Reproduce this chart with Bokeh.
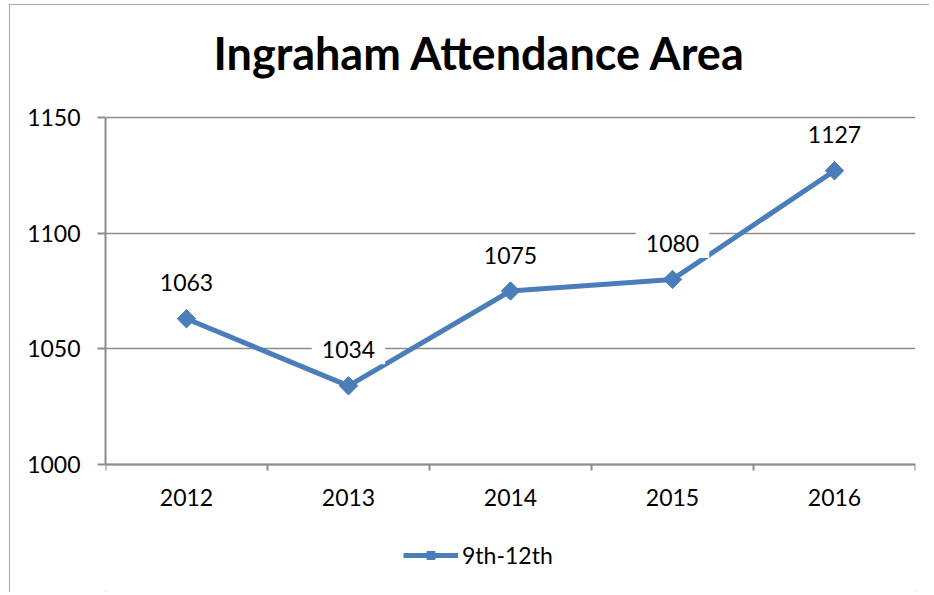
import math
from bokeh.plotting import figure
from bokeh.models import (ColumnDataSource, FixedTicker, Range1d, Title, Legend,
                          LegendItem)
from bokeh.embed import file_html
from bokeh.resources import INLINE
from bokeh.core.properties import value

# ---- data ----
years = ["2012", "2013", "2014", "2015", "2016"]
enrollment = [1063, 1034, 1075, 1080, 1127]
series_name = "9th-12th"
title_text = "Ingraham Attendance Area"
y_ticks = [1000, 1050, 1100, 1150]

xs = [i + 0.5 for i in range(len(years))]
src = ColumnDataSource(dict(x=xs, y=enrollment, label=[str(v) for v in enrollment]))

FONT = "Lato"
GRAY = "#8c8c8c"
BLUE = "#4A7EBB"

# layout geometry (pixels): value axis spans 347 px; frame extended above and
# below so the title and legend sit in the right places
AXIS_PX = 347.0
EXTRA_TOP_PX = 33.0
EXTRA_BOTTOM_PX = 128.0
ppu = AXIS_PX / (y_ticks[-1] - y_ticks[0])
y_lo = y_ticks[0] - EXTRA_BOTTOM_PX / ppu
y_hi = y_ticks[-1] + EXTRA_TOP_PX / ppu

p = figure(width=920, height=588, output_backend="svg", toolbar_location=None,
           x_range=Range1d(0, len(years)), y_range=Range1d(y_lo, y_hi),
           min_border_left=96, min_border_right=14, min_border_top=80,
           min_border_bottom=0)
p.margin = (4, 0, 0, 9)
p.styles = {"outline": "2px solid #8c8c8c", "outline-offset": "-2px"}
p.outline_line_color = None
p.background_fill_color = "white"
p.border_fill_color = "white"

# title
t = Title(text=title_text, align="left", text_font=FONT, text_font_size="45px",
          text_font_style="bold", text_color="black", standoff=10, offset=108)
p.add_layout(t, "above")

# axes
p.yaxis.ticker = FixedTicker(ticks=y_ticks)
p.yaxis.bounds = (y_ticks[0], y_ticks[-1])
p.yaxis.major_tick_out = 8
p.yaxis.major_tick_in = 0
p.yaxis.minor_tick_out = 0
p.yaxis.minor_tick_in = 0
p.yaxis.major_label_standoff = 17
p.yaxis.axis_line_color = GRAY
p.yaxis.axis_line_width = 2
p.yaxis.major_tick_line_color = GRAY
p.yaxis.major_tick_line_width = 2

p.xaxis.ticker = FixedTicker(ticks=xs, minor_ticks=list(range(len(years) + 1)))
p.xaxis.major_label_overrides = {x: y for x, y in zip(xs, years)}
p.xaxis.fixed_location = y_ticks[0]
p.xaxis.major_tick_out = 0
p.xaxis.major_tick_in = 0
p.xaxis.minor_tick_out = 6
p.xaxis.minor_tick_in = 0
p.xaxis.minor_tick_line_color = GRAY
p.xaxis.minor_tick_line_width = 2
p.xaxis.major_label_standoff = 18
p.xaxis.axis_line_color = GRAY
p.xaxis.axis_line_width = 2

for ax in (p.xaxis, p.yaxis):
    ax.major_label_text_font = FONT
    ax.major_label_text_font_size = "23px"
    ax.major_label_text_color = "black"

p.xgrid.grid_line_color = None
p.ygrid.ticker = FixedTicker(ticks=y_ticks)
p.ygrid.grid_line_color = GRAY
p.ygrid.grid_line_width = 1.5

# series
ln = p.line("x", "y", source=src, line_color=BLUE, line_width=5)
mk = p.scatter("x", "y", source=src, marker="square", size=13, angle=math.pi / 4,
               fill_color=BLUE, line_color=BLUE)

# data labels
p.text("x", "y", text="label", source=src, text_font=value(FONT),
       text_font_size="23px", text_color="black", text_align="center",
       text_baseline="middle", y_offset=-36,
       background_fill_color="white",
       padding=dict(left=10, right=10, top=6, bottom=6))

# legend (inside the extended frame, below the category axis)
legend = Legend(items=[LegendItem(label=series_name, renderers=[ln, mk])],
                location=(298, 23), orientation="horizontal",
                glyph_width=55, glyph_height=20, label_standoff=4,
                padding=0, margin=0, border_line_alpha=0,
                background_fill_alpha=0,
                label_text_font=FONT, label_text_font_size="23px",
                label_text_color="black")
p.add_layout(legend, "center")

open("out.html", "w").write(file_html(p, INLINE))
